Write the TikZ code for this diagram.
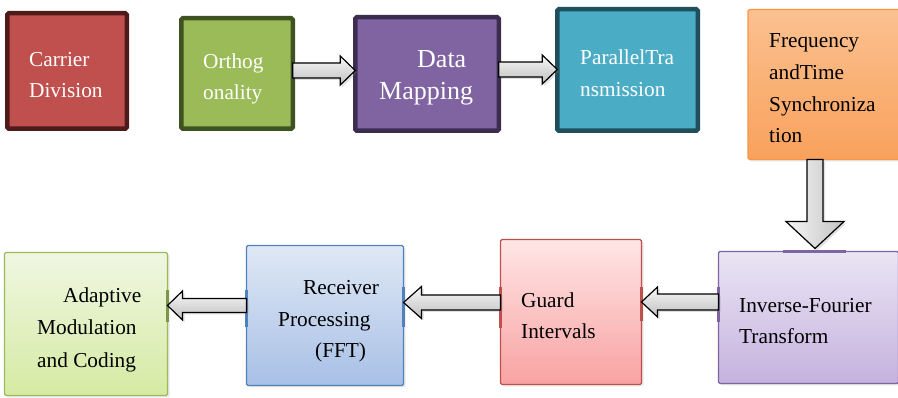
\documentclass[tikz,border=0pt]{standalone}
\usepackage{fontspec}
\setmainfont{Liberation Serif}
\usetikzlibrary{calc,shadows}
\definecolor{cdf}{HTML}{C0504D}\definecolor{cdb}{HTML}{4F1B1A}
\definecolor{orf}{HTML}{9BBB59}\definecolor{orb}{HTML}{3F5222}
\definecolor{dmf}{HTML}{8064A2}\definecolor{dmb}{HTML}{3B2C50}
\definecolor{paf}{HTML}{4BACC6}\definecolor{pab}{HTML}{1F4E5D}
\definecolor{frt}{HTML}{FBC190}\definecolor{frb}{HTML}{F9A15C}\definecolor{frd}{HTML}{F79646}
\definecolor{adt}{HTML}{F0F7E2}\definecolor{adb}{HTML}{D5EAA3}\definecolor{add}{HTML}{9BBB59}
\definecolor{rct}{HTML}{DFE8F5}\definecolor{rcb}{HTML}{A8C0E6}\definecolor{rcd}{HTML}{4F81BD}
\definecolor{gdt}{HTML}{FFE6E6}\definecolor{gdb}{HTML}{F8A2A2}\definecolor{gdd}{HTML}{C0504D}
\definecolor{ivt}{HTML}{EAE5F4}\definecolor{ivb}{HTML}{C5B2DE}\definecolor{ivd}{HTML}{8064A2}
\newcommand{\hblk}[6]{\draw[blk] ($(#1 |- 0,#3)+(0,{-(#4)})$) -- ($(#2 |- 0,#3)+({-(#6)},{-(#4)})$) -- ($(#2 |- 0,#3)+({-(#6)},{-(#5)})$) -- (#2 |- 0,#3) -- ($(#2 |- 0,#3)+({-(#6)},{#5})$) -- ($(#2 |- 0,#3)+({-(#6)},{#4})$) -- ($(#1 |- 0,#3)+(0,{#4})$) -- cycle;}
\begin{document}
\begin{tikzpicture}[x=1pt,y=-1pt,
  box/.style={draw, rectangle, outer sep=0pt, inner sep=0pt, rounded corners=1.5pt},
  topbox/.style={box, line width=4.5pt},
  lowbox/.style={box, line width=1.3pt, drop shadow={shadow xshift=2pt, shadow yshift=-2pt, opacity=0.18}},
  txt/.style={anchor=base west, inner sep=0pt, font=\fontsize{21.3}{25}\selectfont},
  wtxt/.style={txt, text=white},
  btxt/.style={wtxt, font=\fontsize{26}{30}\selectfont},
  blk/.style={draw=black, line width=1.2pt, line join=miter, top color=gray!6, bottom color=gray!50, drop shadow={shadow xshift=2pt, shadow yshift=-2pt, opacity=0.25}},
  blkv/.style={draw=black, line width=1.2pt, line join=miter, left color=gray!6, right color=gray!48, drop shadow={shadow xshift=2pt, shadow yshift=-2pt, opacity=0.25}},
  edgemark/.style={line width=2.6pt}
]
\useasboundingbox (0,0) rectangle (898,398);
\fill[white] (0,0) rectangle (898,398);
% top row
\node[topbox, draw=cdb, fill=cdf, minimum width=119.5pt, minimum height=115.5pt] (carrier) at (67,71) {};
\node[topbox, draw=orb, fill=orf, minimum width=111.5pt, minimum height=110.5pt] (orth) at (237,73.5) {};
\node[topbox, draw=dmb, fill=dmf, minimum width=143.5pt, minimum height=113.5pt] (dmap) at (427,74) {};
\node[topbox, draw=pab, fill=paf, minimum width=140.5pt, minimum height=121.5pt] (par) at (627.5,70) {};
\node[lowbox, line width=1.3pt, draw=frd, top color=frt, bottom color=frb, minimum width=152pt, minimum height=150pt] (freq) at (824,84.5) {};
% bottom row
\node[lowbox, draw=add, top color=adt, bottom color=adb, minimum width=163pt, minimum height=143pt] (adapt) at (86,324) {};
\node[lowbox, draw=rcd, top color=rct, bottom color=rcb, minimum width=157pt, minimum height=140pt] (recv) at (325,315.5) {};
\node[lowbox, draw=gdd, top color=gdt, bottom color=gdb, minimum width=141pt, minimum height=145pt] (guard) at (571,312) {};
\node[lowbox, draw=ivd, top color=ivt, bottom color=ivb, minimum width=180pt, minimum height=132pt] (inv) at (808.5,317.5) {};
% connection marks
\draw[edgemark, draw=add!80!black] (adapt.east |- 0,290) -- (adapt.east |- 0,322);
\draw[edgemark, draw=rcd] (recv.west |- 0,290) -- (recv.west |- 0,327);
\draw[edgemark, draw=rcd] (recv.east |- 0,287) -- (recv.east |- 0,327);
\draw[edgemark, draw=gdd] (guard.west |- 0,287) -- (guard.west |- 0,328);
\draw[edgemark, draw=gdd] (guard.east |- 0,287) -- (guard.east |- 0,321);
\draw[edgemark, draw=ivd] (inv.west |- 0,287) -- (inv.west |- 0,322);
\draw[edgemark, draw=ivd] (inv.north -| 783,0) -- (inv.north -| 846,0);
% texts
\node[wtxt] (t1a) at (29,67) {Carrier};
\node[wtxt] (t1b) at (29,98) {Division};
\node[wtxt] (t2a) at (203,69) {Orthog};
\node[wtxt] (t2b) at (203,100) {onality};
\node[btxt] (t3a) at (417,68) {Data};
\node[btxt] (t3b) at (379,100) {Mapping};
\node[wtxt] (t4a) at (580,65) {ParallelTra};
\node[wtxt] (t4b) at (580,97) {nsmission};
\node[txt] (t5a) at (769,48) {Frequency};
\node[txt] (t5b) at (769,80) {andTime};
\node[txt] (t5c) at (769,112) {Synchroniza};
\node[txt] (t5d) at (769,143) {tion};
\node[txt] (t6a) at (63,303) {Adaptive};
\node[txt] (t6b) at (37,335) {Modulation};
\node[txt] (t6c) at (37,367) {and Coding};
\node[txt] (t7a) at (303,295) {Receiver};
\node[txt] (t7b) at (278,327) {Processing};
\node[txt] (t7c) at (315,358) {(FFT)};
\node[txt] (t8a) at (521,308) {Guard};
\node[txt] (t8b) at (521,339) {Intervals};
\node[txt] (t9a) at (739,313) {Inverse-Fourier};
\node[txt] (t9b) at (739,344) {Transform};
% block arrows
\hblk{orth.east}{dmap.west}{70.5}{7.5}{14.5}{15}
\hblk{dmap.east}{par.west}{69.5}{7.5}{14.5}{15}
\hblk{inv.west}{guard.east}{302}{8}{15}{-16}
\hblk{guard.west}{recv.east}{302.5}{7.5}{16}{-18}
\hblk{recv.west}{adapt.east}{305.5}{7}{14.5}{-15}
\draw[blkv] ($(freq.south -| 815,0)+(-8,0)$) -- ($(inv.north -| 815,0)+(-8,-30)$) -- ($(inv.north -| 815,0)+(-29,-30)$) -- ($(inv.north -| 815,0)+(0,-3)$) -- ($(inv.north -| 815,0)+(29,-30)$) -- ($(inv.north -| 815,0)+(8,-30)$) -- ($(freq.south -| 815,0)+(8,0)$) -- cycle;
\end{tikzpicture}
\end{document}
